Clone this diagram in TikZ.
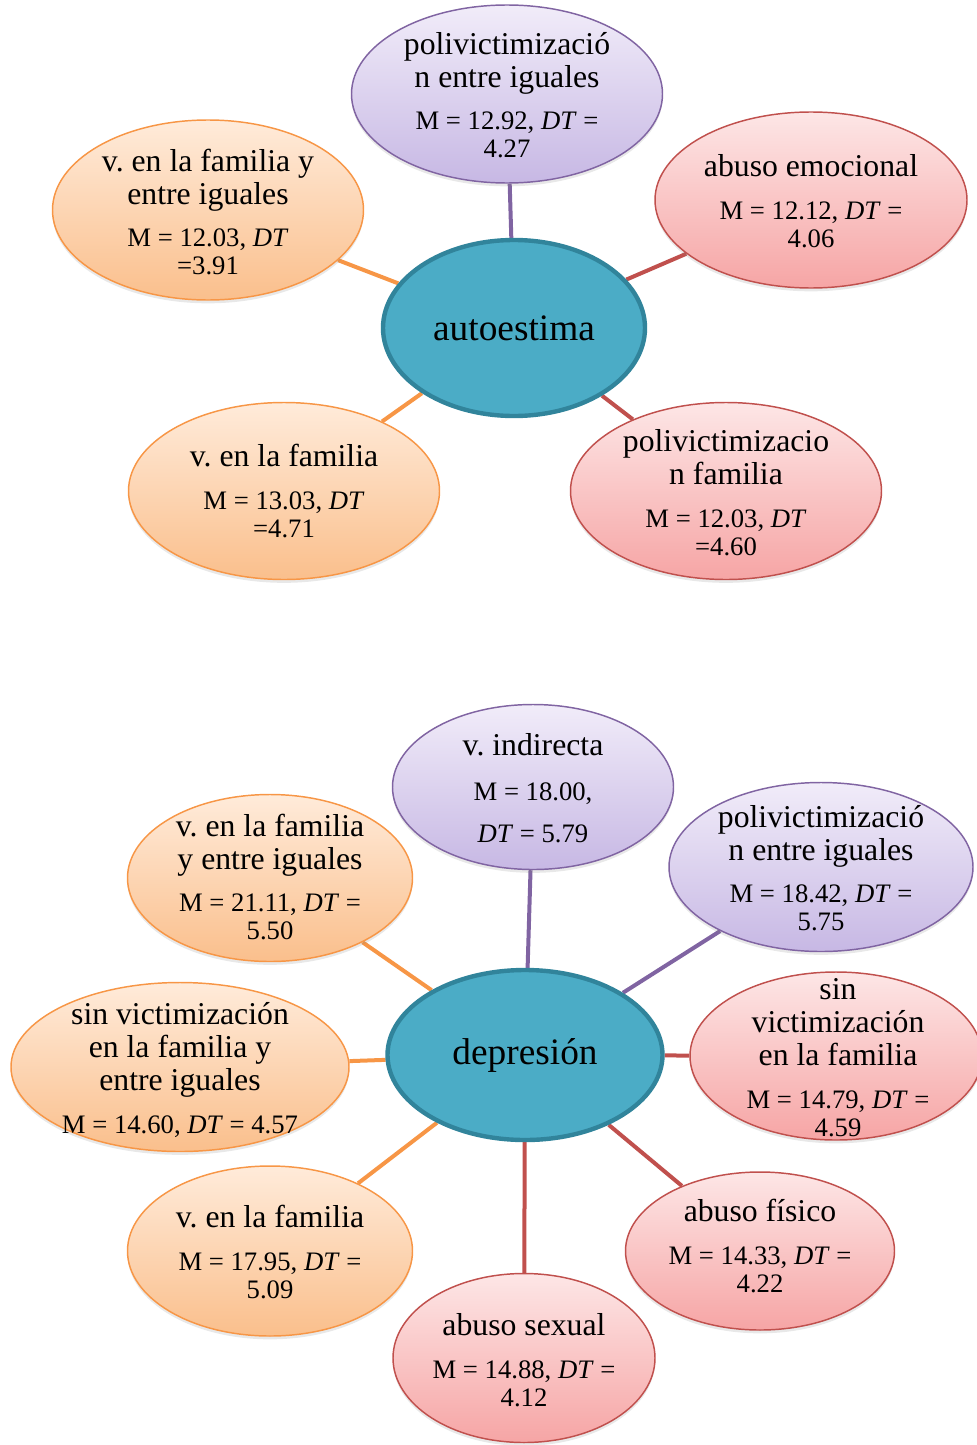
\documentclass[tikz,border=0pt]{standalone}
\usepackage{fontspec}
\setmainfont{Liberation Serif}
\usetikzlibrary{shapes.geometric,shadows}
\definecolor{orBd}{HTML}{F79646}
\definecolor{orTop}{HTML}{FFEBDA}
\definecolor{orBot}{HTML}{FABF8C}
\definecolor{puBd}{HTML}{8064A2}
\definecolor{puTop}{HTML}{F1ECF9}
\definecolor{puBot}{HTML}{C7B8E4}
\definecolor{reBd}{HTML}{C0504D}
\definecolor{reTop}{HTML}{FDE6E6}
\definecolor{reBot}{HTML}{F6A5A5}
\definecolor{ceFill}{HTML}{4BACC6}
\definecolor{ceBd}{HTML}{31849B}
\newcommand{\Ttl}[1]{{\fontsize{23.8}{24.75}\selectfont #1}}
\lineskiplimit=-100pt
\lineskip=0pt
\frenchspacing
\pgfdeclarelayer{bg}
\pgfsetlayers{bg,main}
\tikzset{
  sz/.style 2 args={minimum width=#1*0.75pt, minimum height=#2*0.75pt},
  ell/.style={ellipse, inner sep=0pt, line width=1.1pt,
    drop shadow={shadow xshift=0pt, shadow yshift=-2.5pt, opacity=0.18}},
  orE/.style={ell, draw=orBd, top color=orTop, bottom color=orBot},
  puE/.style={ell, draw=puBd, top color=puTop, bottom color=puBot},
  reE/.style={ell, draw=reBd, top color=reTop, bottom color=reBot},
  ceE/.style={ellipse, inner sep=0pt, draw=ceBd, fill=ceFill, line width=3.3pt,
    font=\fontsize{28}{30}\selectfont},
  txt/.style={align=center, inner sep=0pt, font=\fontsize{20}{21}\selectfont},
  conO/.style={draw=orBd, line width=3pt},
  conP/.style={draw=puBd, line width=3pt},
  conR/.style={draw=reBd, line width=3pt},
}
\begin{document}
\frenchspacing
\begin{tikzpicture}[x=0.75pt,y=-0.75pt]
\useasboundingbox (0,0) rectangle (977,1445);

% ---------- top diagram ----------
\node[ceE, sz={262}{176}] (A) at (514,328) {autoestima};
\node[puE, sz={311}{178}] (tp) at (507,94) {};
\node[txt] (tpt) at (507,95) {\Ttl{polivictimizació}\\[3.75pt]\Ttl{n entre iguales}\\[11pt]M = 12.92, \textit{DT} =\\4.27};
\node[orE, sz={311}{180}] (tl) at (208,210) {};
\node[txt] (tlt) at (208,212) {\Ttl{v. en la familia y}\\[3.75pt]\Ttl{entre iguales}\\[11pt]M = 12.03, \textit{DT}\\=3.91};
\node[reE, sz={312}{176}] (tr) at (811,200) {};
\node[txt] (trt) at (811,201) {\Ttl{abuso emocional}\\[11pt]M = 12.12, \textit{DT} =\\4.06};
\node[orE, sz={311}{177}] (bl) at (284,491) {};
\node[txt] (blt) at (284,491) {\Ttl{v. en la familia}\\[11pt]M = 13.03, \textit{DT}\\=4.71};
\node[reE, sz={311}{177}] (br) at (726,491) {};
\node[txt] (brt) at (726,493) {\Ttl{polivictimizacio}\\[3.75pt]\Ttl{n familia}\\[11pt]M = 12.03, \textit{DT}\\=4.60};

% ---------- bottom diagram ----------
\node[ceE, sz={275}{170}] (D) at (525,1055) {depresión};
\node[puE, sz={281}{165}] (vi) at (533,787) {};
\node[txt] (vit) at (533,788) {\Ttl{v. indirecta}\\[12.75pt]M = 18.00,\\[10.5pt]\textit{DT} = 5.79};
\node[puE, sz={304}{169}] (pe) at (821,867) {};
\node[txt] (pet) at (821,868) {\Ttl{polivictimizació}\\[3.75pt]\Ttl{n entre iguales}\\[11pt]M = 18.42, \textit{DT} =\\5.75};
\node[orE, sz={285}{167}] (fe) at (270,878) {};
\node[txt] (fet) at (270,877) {\Ttl{v. en la familia}\\[3.75pt]\Ttl{y entre iguales}\\[11pt]M = 21.11, \textit{DT} =\\5.50};
\node[orE, sz={338}{169}] (sv) at (180,1067) {};
\node[txt] (svt) at (180,1070) {\Ttl{sin victimización}\\[3.75pt]\Ttl{en la familia y}\\[3.75pt]\Ttl{entre iguales}\\[11pt]M = 14.60, \textit{DT} = 4.57};
\node[reE, sz={292}{168}] (sf) at (836,1056) {};
\node[txt] (sft) at (838,1058) {\Ttl{sin}\\[3.75pt]\Ttl{victimización}\\[3.75pt]\Ttl{en la familia}\\[11pt]M = 14.79, \textit{DT} =\\4.59};
\node[reE, sz={269}{158}] (af) at (760,1251) {};
\node[txt] (aft) at (760,1246) {\Ttl{abuso físico}\\[11pt]M = 14.33, \textit{DT} =\\4.22};
\node[reE, sz={262}{169}] (as) at (524,1358) {};
\node[txt] (ast) at (524,1360) {\Ttl{abuso sexual}\\[11pt]M = 14.88, \textit{DT} =\\4.12};
\node[orE, sz={285}{170}] (vf) at (270,1251) {};
\node[txt] (vft) at (270,1252) {\Ttl{v. en la familia}\\[11pt]M = 17.95, \textit{DT} =\\5.09};

\begin{pgfonlayer}{bg}
\draw[conP] (A) -- (tp);
\draw[conO] (A) -- (tl);
\draw[conR] (A) -- (tr);
\draw[conO] (A) -- (bl);
\draw[conR] (A) -- (br);
\draw[conP] (D) -- (vi);
\draw[conP] (D) -- (pe);
\draw[conO] (D) -- (fe);
\draw[conO] (D) -- (sv);
\draw[conR] (D) -- (sf);
\draw[conR] (D) -- (af);
\draw[conR] (D) -- (as);
\draw[conO] (D) -- (vf);
\end{pgfonlayer}
\end{tikzpicture}
\end{document}
